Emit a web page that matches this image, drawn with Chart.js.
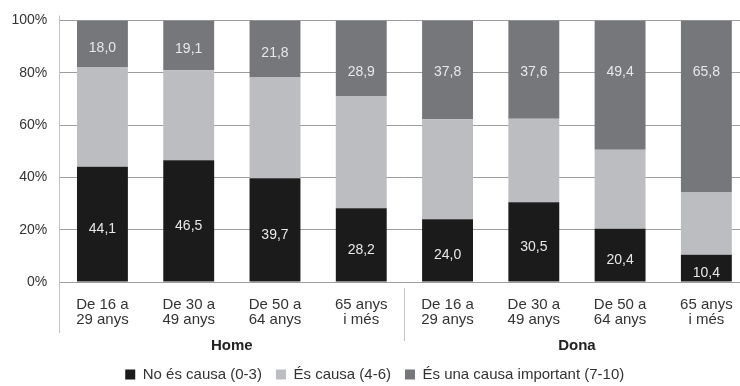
<!DOCTYPE html>
<html>
<head>
<meta charset="utf-8">
<script src="https://cdn.jsdelivr.net/npm/chart.js@4"></script>
<style>
  html, body { margin: 0; padding: 0; background: #fff; overflow: hidden; }
  #wrap { width: 752px; height: 386px; }
</style>
</head>
<body>
<div id="wrap"><canvas id="chart" width="752" height="386"></canvas></div>
<script>
const ageLabels = [
  ["De 16 a", "29 anys"], ["De 30 a", "49 anys"], ["De 50 a", "64 anys"], ["65 anys", "i més"],
  ["De 16 a", "29 anys"], ["De 30 a", "49 anys"], ["De 50 a", "64 anys"], ["65 anys", "i més"],
];
const groups = ["Home", "Dona"];
const seriesNames = ["No és causa (0-3)", "És causa (4-6)", "És una causa important (7-10)"];
const noCausa = [44.1, 46.5, 39.7, 28.2, 24.0, 30.5, 20.4, 10.4];
const causa = [37.9, 34.4, 38.5, 42.9, 38.2, 31.9, 30.2, 23.8];
const causaImportant = [18.0, 19.1, 21.8, 28.9, 37.8, 37.6, 49.4, 65.8];
const yTicks = [0, 20, 40, 60, 80, 100];

const colors = ["#1b1b1b", "#bcbdc0", "#76777b"];
const fontFamily = "'Liberation Sans', Arial, sans-serif";

// numeric labels inside black and dark grey segments, plus axis line, separator and group names
const extras = {
  id: "extras",
  afterDatasetsDraw(chart) {
    const ctx = chart.ctx;
    const y = chart.scales.y;
    const y80 = y.getPixelForValue(80);
    ctx.save();
    ctx.font = "14px " + fontFamily;
    ctx.fillStyle = "#e8e8e8";
    ctx.textAlign = "center";
    ctx.textBaseline = "middle";
    [0, 2].forEach((di) => {
      const meta = chart.getDatasetMeta(di);
      const values = chart.data.datasets[di].data;
      meta.data.forEach((bar, i) => {
        const top = Math.min(bar.y, bar.base);
        const bottom = Math.max(bar.y, bar.base);
        let ly = (top + bottom) / 2 + 5;
        if (di === 2) {
          ly = bottom > y80 + 12 ? y80 - 1 : (top + bottom) / 2 + 4;
        }
        ctx.fillText(values[i].toFixed(1).replace(".", ","), bar.x, ly);
      });
    });
    ctx.restore();
  },
  afterDraw(chart) {
    const ctx = chart.ctx;
    const x = chart.scales.x;
    const area = chart.chartArea;
    ctx.save();
    ctx.strokeStyle = "#c4c4c4";
    ctx.lineWidth = 1;
    const ax = Math.round(area.left) + 0.5;
    ctx.beginPath();
    ctx.moveTo(ax, area.top - 5);
    ctx.lineTo(ax, area.bottom + 51);
    ctx.stroke();
    const sx = Math.round((x.getPixelForTick(3) + x.getPixelForTick(4)) / 2) + 0.5;
    ctx.beginPath();
    ctx.moveTo(sx, area.bottom + 6);
    ctx.lineTo(sx, area.bottom + 59);
    ctx.stroke();

    ctx.font = "bold 15px " + fontFamily;
    ctx.fillStyle = "#222";
    ctx.textAlign = "center";
    ctx.textBaseline = "middle";
    const gx0 = (x.getPixelForTick(0) + x.getPixelForTick(3)) / 2;
    const gx1 = (x.getPixelForTick(4) + x.getPixelForTick(7)) / 2;
    ctx.fillText(groups[0], gx0, area.bottom + 64);
    ctx.fillText(groups[1], gx1, area.bottom + 64);
    ctx.restore();
  },
};

const datasets = [noCausa, causa, causaImportant].map((d, i) => ({
  label: seriesNames[i],
  data: d,
  backgroundColor: colors[i],
  borderWidth: 0,
  barPercentage: 0.59,
  categoryPercentage: 1,
}));

new Chart(document.getElementById("chart"), {
  type: "bar",
  data: { labels: ageLabels, datasets },
  options: {
    responsive: false,
    animation: false,
    devicePixelRatio: 1,
    layout: { padding: { top: 20, right: 2.5, left: 0, bottom: -6 } },
    plugins: {
      tooltip: { enabled: false },
      legend: {
        position: "bottom",
        labels: {
          boxWidth: 10,
          boxHeight: 10,
          padding: 14,
          color: "#333",
          font: { family: fontFamily, size: 15 },
        },
      },
    },
    scales: {
      x: {
        stacked: true,
        grid: { display: false },
        border: { display: false },
        ticks: {
          color: "#333",
          padding: 7,
          maxRotation: 0,
          autoSkip: false,
          font: { family: fontFamily, size: 15, lineHeight: 1.0 },
        },
        afterFit(scale) { scale.height = 71; },
      },
      y: {
        stacked: true,
        min: 0,
        max: 100,
        afterBuildTicks(scale) { scale.ticks = yTicks.map((v) => ({ value: v })); },
        afterFit(scale) { scale.width = 59.3; },
        grid: { color: "#9d9d9d", drawTicks: false },
        border: { display: false },
        ticks: {
          color: "#333",
          padding: 12,
          font: { family: fontFamily, size: 14 },
          callback: (v) => v + "%",
        },
      },
    },
  },
  plugins: [extras],
});
</script>
</body>
</html>
